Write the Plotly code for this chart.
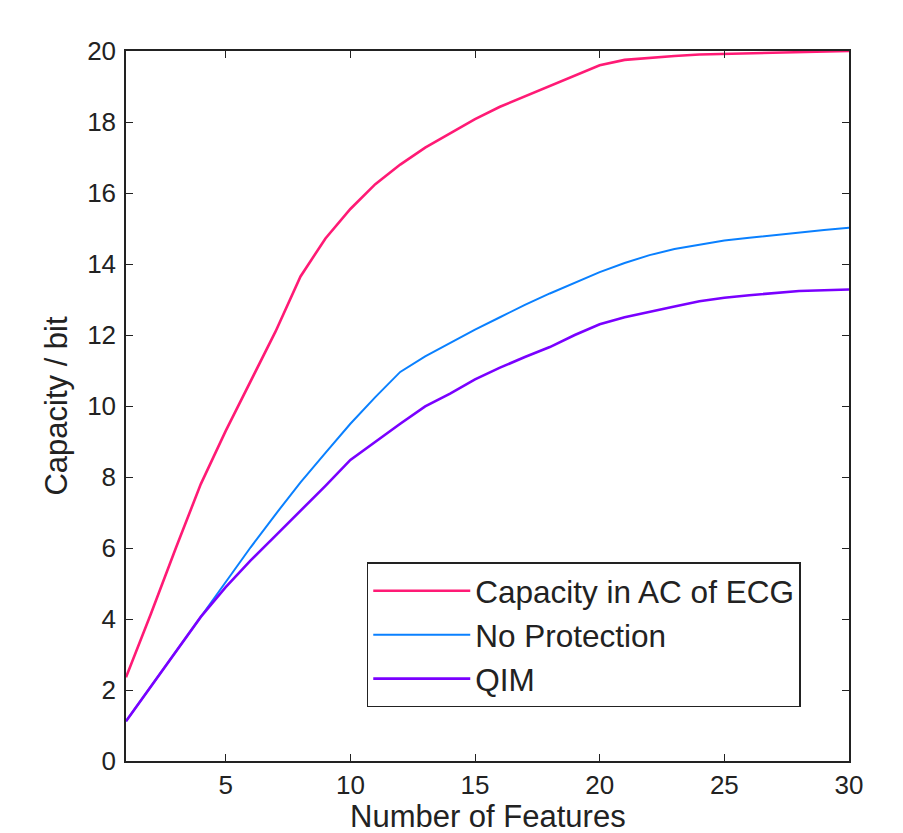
import plotly.graph_objects as go

# Number of features (x) and capacity in bits for each method
features = list(range(1, 31))

capacity_ac_ecg = [2.36, 4.15, 6.0, 7.8, 9.3, 10.7, 12.1, 13.65, 14.72, 15.55,
                   16.25, 16.8, 17.28, 17.68, 18.08, 18.43, 18.72, 19.0, 19.3, 19.6,
                   19.75, 19.81, 19.86, 19.9, 19.92, 19.94, 19.96, 19.98, 19.99, 20.0]

no_protection = [1.12, 2.1, 3.1, 4.06, 5.05, 6.02, 6.95, 7.85, 8.68, 9.5,
                 10.25, 10.96, 11.4, 11.78, 12.15, 12.5, 12.85, 13.17, 13.47, 13.77,
                 14.03, 14.25, 14.42, 14.55, 14.66, 14.74, 14.82, 14.9, 14.96, 15.02]

qim = [1.12, 2.1, 3.1, 4.06, 4.9, 5.65, 6.35, 7.05, 7.75, 8.48,
       9.0, 9.5, 9.99, 10.35, 10.75, 11.08, 11.38, 11.66, 12.0, 12.3,
       12.5, 12.66, 12.8, 12.95, 13.05, 13.12, 13.18, 13.24, 13.26, 13.28]

series_names = ["Capacity in AC of ECG", "No Protection", "QIM"]
series_colors = ["#ff1a75", "#0a80ff", "#7a00ff"]
series_widths = [2.6, 2.0, 2.6]

x_ticks = [5, 10, 15, 20, 25, 30]
y_ticks = list(range(0, 21, 2))

FONT = "Liberation Sans, Arial, sans-serif"
INK = "#222222"

fig = go.Figure()
for name, ys, color, w in zip(series_names, [capacity_ac_ecg, no_protection, qim],
                              series_colors, series_widths):
    fig.add_trace(go.Scatter(x=features, y=ys, mode="lines", name=name,
                             line=dict(color=color, width=w)))

axis_common = dict(
    showline=True, linecolor=INK, linewidth=1.5,
    mirror="ticks", ticks="inside", ticklen=7, tickwidth=1.3, tickcolor=INK,
    showgrid=False, zeroline=False,
    tickfont=dict(family=FONT, size=26, color=INK),
)

fig.update_layout(
    width=903, height=833,
    margin=dict(l=126, r=54, t=51, b=72, autoexpand=False),
    paper_bgcolor="white", plot_bgcolor="white",
    font=dict(family=FONT, color=INK),
    xaxis=dict(range=[1, 30], tickvals=x_ticks, **axis_common),
    yaxis=dict(range=[0, 20], tickvals=y_ticks, ticklabelstandoff=3, **axis_common,
               title=dict(text="Capacity / bit", standoff=10,
                          font=dict(family=FONT, size=31, color=INK))),
    legend=dict(x=0.333, y=0.28, xanchor="left", yanchor="top",
                bgcolor="white", bordercolor=INK, borderwidth=1.5,
                font=dict(family=FONT, size=31.5, color=INK),
                itemwidth=97, tracegroupgap=0),
)

# x-axis title placed low, near the bottom edge of the page
fig.add_annotation(text="Number of Features", xref="paper", yref="paper",
                   x=0.5, y=-0.050, xanchor="center", yanchor="top",
                   showarrow=False, font=dict(family=FONT, size=31, color=INK))

fig.write_html("out.html")
